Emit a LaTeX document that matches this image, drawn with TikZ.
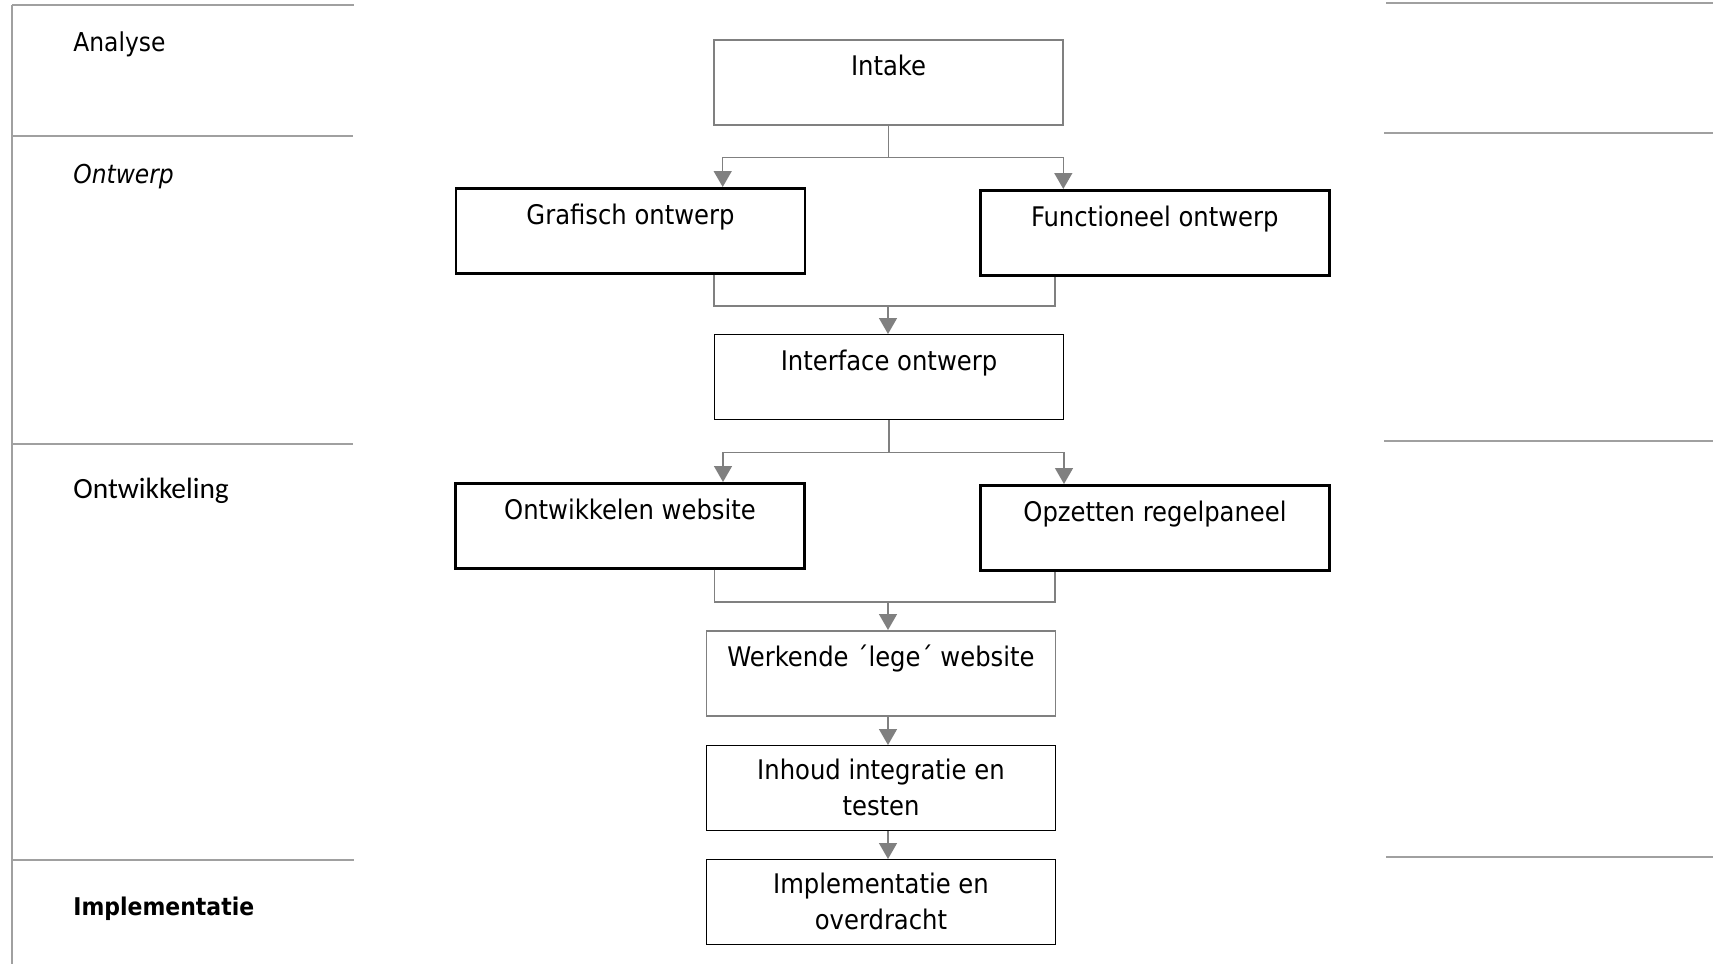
\documentclass[tikz,border=0pt]{standalone}
\usepackage{fontspec}
\setmainfont{DejaVu Sans Condensed}
\newfontfamily\calfont{Carlito}
\usepackage{xcolor}
\usepackage{tikz}
\usetikzlibrary{arrows.meta}

\definecolor{linegray}{HTML}{808080}
\definecolor{rulegray}{HTML}{A0A0A0}

\tikzset{
  box/.style={draw, rectangle, anchor=north, minimum width=174.5pt, inner xsep=0pt, inner ysep=0pt,
    align=center, font=\fontsize{13.5}{18.3}\selectfont, text height=18pt, text depth=24.5pt},
  twobox/.style={box, text height=35pt, text depth=7.5pt},
  thickbox/.style={box, line width=1.25pt},
  thinbox/.style={line width=0.65pt},
  conn/.style={draw=linegray, line width=0.75pt, -{Triangle[length=8pt,width=9pt]}},
  joinline/.style={draw=linegray, line width=0.75pt},
  rule/.style={draw=rulegray, line width=0.75pt},
  phase/.style={anchor=base west, inner sep=0pt, font=\fontsize{13}{16}\selectfont}
}

\begin{document}
\begin{tikzpicture}[x=0.5pt,y=-0.5pt]
\useasboundingbox (0,0) rectangle (1713,964);
%% fases links
\draw[rule] (12,5) -- (12,964);
\draw[rule] (12,5) -- (354,5);
\draw[rule] (12,136) -- (353,136);
\draw[rule] (12,444) -- (353,444);
\draw[rule] (12,860) -- (354,860);
%% fases rechts
\draw[rule, line width=1pt] (1386,3) -- (1713,3);
\draw[rule, line width=1pt] (1384,133) -- (1713,133);
\draw[rule, line width=1pt] (1384,441) -- (1713,441);
\draw[rule, line width=1pt] (1386,857) -- (1713,857);
%%
\node[phase] (analyse) at (73,51.7) {Analyse};
\node[phase, font=\fontsize{13}{16}\selectfont\itshape] (ontwerp) at (73,183) {Ontwerp};
\node[phase, font=\calfont\fontsize{14.7}{18}\selectfont] (ontwikkeling) at (73,498) {Ontwikkeling};
\node[phase, font=\fontsize{12.2}{16}\selectfont\bfseries] (implementatie) at (73,915) {Implementatie};
%% stappen
\node[box, draw=linegray, line width=0.75pt] (intake) at (888.5,39) {Intake};
\node[thickbox] (grafisch) at (630.5,187) {Grafisch ontwerp};
\node[thickbox] (functioneel) at (1154.8,189) {Functioneel ontwerp};
\node[box, thinbox] (interface) at (889,334) {Interface ontwerp};
\node[thickbox] (ontwikkelen) at (630,482) {Ontwikkelen website};
\node[thickbox] (opzetten) at (1155,484) {Opzetten regelpaneel};
\node[box, draw=linegray, line width=0.75pt] (werkende) at (881,630) {Werkende ´lege´ website};
\node[twobox, thinbox] (inhoud) at (881,745) {Inhoud integratie en\\testen};
\node[twobox, thinbox] (implem) at (881,859) {Implementatie en\\overdracht};
%% pijlen
\draw[conn] (intake.south) -- ++(0,32) -| ([xshift=46.1pt]grafisch.north);
\draw[conn] (intake.south) -- ++(0,32) -| ([xshift=-45.75pt]functioneel.north);
\coordinate (j1) at (888,306);
\draw[joinline] ([xshift=41.75pt]grafisch.south) |- (j1) -| ([xshift=-49.9pt]functioneel.south);
\draw[conn] (j1) -- (j1 |- interface.north);
%%
\draw[conn] (interface.south) -- ++(0,32) -| ([xshift=46.5pt]ontwikkelen.north);
\draw[conn] (interface.south) -- ++(0,32) -| ([xshift=-45.5pt]opzetten.north);
\coordinate (j2) at (888,602);
\draw[joinline] ([xshift=42.25pt]ontwikkelen.south) |- (j2) -| ([xshift=-50pt]opzetten.south);
\draw[conn] (j2) -- (j2 |- werkende.north);
%%
\draw[conn] ([xshift=3.5pt]werkende.south) -- ([xshift=3.5pt]inhoud.north);
\draw[conn] ([xshift=3.5pt]inhoud.south) -- ([xshift=3.5pt]implem.north);
\end{tikzpicture}
\end{document}
